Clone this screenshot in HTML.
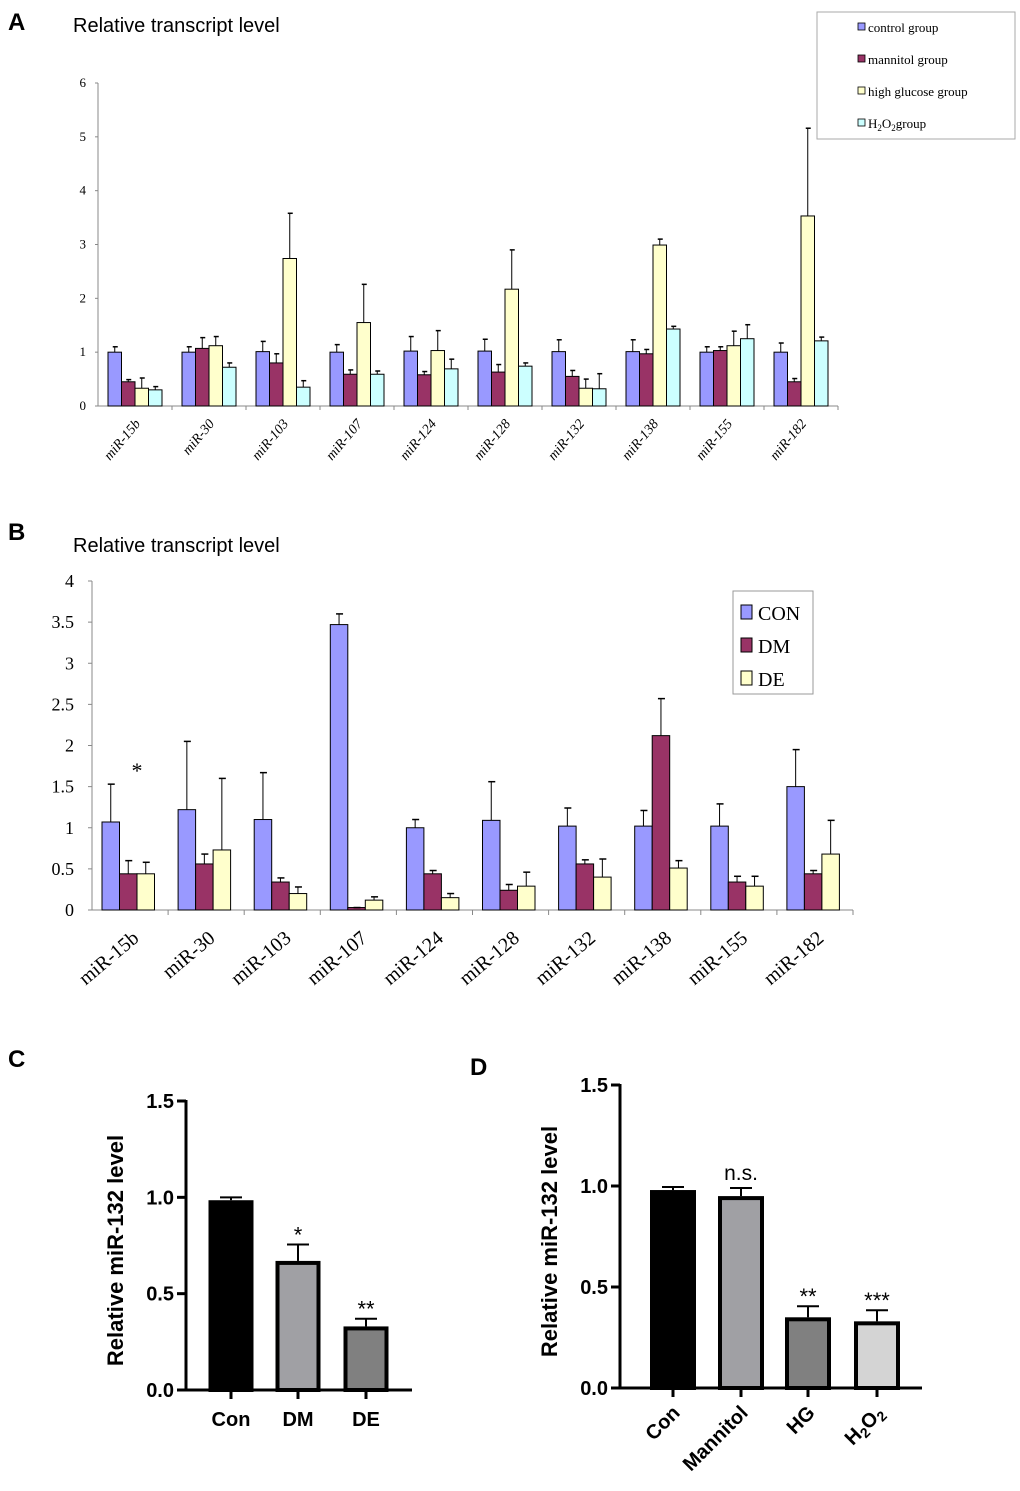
<!DOCTYPE html>
<html><head><meta charset="utf-8"><style>
body{margin:0;background:#fff}
svg{display:block}
.ser{font-family:"Liberation Serif",serif}
.san{font-family:"Liberation Sans",sans-serif}
</style></head><body>
<svg id="fig" width="1020" height="1491" viewBox="0 0 1020 1491" xmlns="http://www.w3.org/2000/svg">
<g id="gA"></g>
<g id="gB"></g>
<g id="gC"></g>
<g id="gD"></g>
</svg>
<script>
const mirs = ["miR-15b","miR-30","miR-103","miR-107","miR-124","miR-128","miR-132","miR-138","miR-155","miR-182"];
// Panel A
const aControl = [1.0,1.0,1.01,1.0,1.02,1.02,1.01,1.01,1.0,1.0];
const aControlErr = [1.1,1.1,1.2,1.14,1.29,1.24,1.23,1.23,1.1,1.17];
const aMannitol = [0.45,1.07,0.8,0.59,0.58,0.63,0.55,0.97,1.03,0.45];
const aMannitolErr = [0.49,1.27,0.97,0.67,0.64,0.77,0.66,1.05,1.1,0.51];
const aHG = [0.33,1.12,2.74,1.55,1.03,2.17,0.33,2.99,1.12,3.53];
const aHGErr = [0.52,1.29,3.58,2.26,1.4,2.9,0.5,3.1,1.39,5.16];
const aH2O2 = [0.3,0.72,0.35,0.59,0.69,0.74,0.32,1.43,1.25,1.21];
const aH2O2Err = [0.36,0.8,0.47,0.65,0.87,0.8,0.6,1.48,1.51,1.28];
const aTicks = [0,1,2,3,4,5,6];
// Panel B
const bCON = [1.07,1.22,1.1,3.47,1.0,1.09,1.02,1.02,1.02,1.5];
const bCONErr = [1.53,2.05,1.67,3.6,1.1,1.56,1.24,1.21,1.29,1.95];
const bDM = [0.44,0.56,0.34,0.03,0.44,0.24,0.56,2.12,0.34,0.44];
const bDMErr = [0.6,0.68,0.39,0.03,0.48,0.31,0.61,2.57,0.41,0.48];
const bDE = [0.44,0.73,0.2,0.12,0.15,0.29,0.4,0.51,0.29,0.68];
const bDEErr = [0.58,1.6,0.28,0.16,0.2,0.46,0.62,0.6,0.41,1.09];
const bTicks = ["0","0.5","1","1.5","2","2.5","3","3.5","4"];
// Panel C
const cCats = ["Con","DM","DE"];
const cVals = [0.985,0.67,0.33];
const cErr = [1.0,0.755,0.37];
const cStars = ["","*","**"];
// Panel D
const dCats = ["Con","Mannitol","HG","H2O2"];
const dVals = [0.98,0.95,0.35,0.33];
const dErr = [0.995,0.99,0.405,0.385];
const dStars = ["","n.s.","**","***"];
const cdTicks = ["0.0","0.5","1.0","1.5"];

const NS="http://www.w3.org/2000/svg";
function mk(parent,tag,attrs,text){const e=document.createElementNS(NS,tag);for(const k in attrs)e.setAttribute(k,attrs[k]);if(text!==undefined)e.textContent=text;parent.appendChild(e);return e;}

// ---------- Panel A ----------
(function(){
 const g=document.getElementById('gA');
 const x0=98,x1=838,y0=406,yTop=83,ymax=6;
 const y=v=>y0-(y0-yTop)*v/ymax;
 const gw=(x1-x0)/mirs.length;
 let t=mk(g,'text',{x:8,y:30,'font-size':24,'font-weight':'bold',class:'san'},'A');
 
 t=mk(g,'text',{x:73,y:32,'font-size':20,class:'san'},'Relative transcript level');
 
 let ax=mk(g,'line',{x1:x0,y1:y(0),x2:x0,y2:y(6),stroke:'#888','stroke-width':1});
 
 ax=mk(g,'line',{x1:x0,y1:y0,x2:x1,y2:y0,stroke:'#888','stroke-width':1});
 
 aTicks.forEach(v=>{
  mk(g,'line',{x1:x0-3,y1:y(v),x2:x0,y2:y(v),stroke:'#888'});
  const tl=mk(g,'text',{x:x0-12,y:y(v)+4,'font-size':13,'text-anchor':'end',class:'ser'},String(v));
  
 });
 const series=[[aControl,aControlErr,'#9999ff'],[aMannitol,aMannitolErr,'#993366'],[aHG,aHGErr,'#ffffcc'],[aH2O2,aH2O2Err,'#ccffff']];
 const bw=13.5;
 mirs.forEach((m,i)=>{
  const gx=x0+gw*i;
  mk(g,'line',{x1:gx+gw,y1:y0,x2:gx+gw,y2:y0+4,stroke:'#888'});
  series.forEach((s,j)=>{
   const bx=gx+10+bw*j, v=s[0][i], e=s[1][i];
   const r=mk(g,'rect',{x:bx,y:y(v),width:bw,height:y0-y(v),fill:s[2],stroke:'#000','stroke-width':1});
   
   mk(g,'line',{x1:bx+bw/2,y1:y(v),x2:bx+bw/2,y2:y(e),stroke:'#000'});
   mk(g,'line',{x1:bx+bw/2-2,y1:y(e),x2:bx+bw/2+3,y2:y(e),stroke:'#000','stroke-width':1.5});
  });
  const cx=gx+gw/2+6;
  const tl=mk(g,'text',{x:cx,y:y0+18,'font-size':14,'text-anchor':'end',class:'ser','font-style':'italic',transform:`rotate(-50 ${cx} ${y0+18})`},m);
  
 });
 const lg=mk(g,'g',{});
 
 mk(lg,'rect',{x:817,y:12,width:198,height:127,fill:'#fff',stroke:'#aaa'});
 const names=['control group','mannitol group','high glucose group',''];
 series.forEach((s,j)=>{
  const ly=31+32*j;
  mk(lg,'rect',{x:858,y:ly-8,width:7,height:7,fill:s[2],stroke:'#000','stroke-width':0.8});
  if(j<3){mk(lg,'text',{x:868,y:ly+1,'font-size':13,class:'ser'},names[j]);}
  else{const tt=mk(lg,'text',{x:868,y:ly+1,'font-size':13,class:'ser'});tt.innerHTML='H<tspan font-size="9" dy="3">2</tspan><tspan dy="-3">O</tspan><tspan font-size="9" dy="3">2</tspan><tspan dy="-3">group</tspan>';}
 });
})();

// ---------- Panel B ----------
(function(){
 const g=document.getElementById('gB');
 const x0=92,x1=853,y0=910,yTop=581,ymax=4;
 const y=v=>y0-(y0-yTop)*v/ymax;
 const gw=(x1-x0)/mirs.length;
 let t=mk(g,'text',{x:8,y:540,'font-size':24,'font-weight':'bold',class:'san'},'B');
 
 t=mk(g,'text',{x:73,y:552,'font-size':20,class:'san'},'Relative transcript level');
 
 let ax=mk(g,'line',{x1:x0,y1:y0,x2:x0,y2:yTop,stroke:'#888'});
 
 ax=mk(g,'line',{x1:x0,y1:y0,x2:x1,y2:y0,stroke:'#888'});
 
 bTicks.forEach(s=>{
  const v=parseFloat(s);
  mk(g,'line',{x1:x0-4,y1:y(v),x2:x0,y2:y(v),stroke:'#888'});
  const tl=mk(g,'text',{x:x0-18,y:y(v)+6,'font-size':18,'text-anchor':'end',class:'ser'},s);
  
 });
 const series=[[bCON,bCONErr,'#9999ff'],[bDM,bDMErr,'#993366'],[bDE,bDEErr,'#ffffcc']];
 const bw=17.5;
 mirs.forEach((m,i)=>{
  const gx=x0+gw*i;
  mk(g,'line',{x1:gx+gw,y1:y0,x2:gx+gw,y2:y0+5,stroke:'#888'});
  series.forEach((s,j)=>{
   const bx=gx+10+bw*j, v=s[0][i], e=s[1][i];
   const r=mk(g,'rect',{x:bx,y:y(v),width:bw,height:y0-y(v),fill:s[2],stroke:'#000','stroke-width':1});
   
   mk(g,'line',{x1:bx+bw/2,y1:y(v),x2:bx+bw/2,y2:y(e),stroke:'#000'});
   mk(g,'line',{x1:bx+bw/2-3,y1:y(e),x2:bx+bw/2+4,y2:y(e),stroke:'#000','stroke-width':1.5});
  });
  const cx=gx+gw/2+10;
  const tl=mk(g,'text',{x:cx,y:y0+30,'font-size':20,'text-anchor':'end',class:'ser',transform:`rotate(-40 ${cx} ${y0+30})`},m);
  
 });
 t=mk(g,'text',{x:137,y:778,'font-size':22,'text-anchor':'middle',class:'ser'},'*');
 
 const lg=mk(g,'g',{});
 
 mk(lg,'rect',{x:733,y:591,width:80,height:103,fill:'#fff',stroke:'#999'});
 ['CON','DM','DE'].forEach((n,j)=>{
  const ly=613+33*j;
  mk(lg,'rect',{x:741,y:ly-8,width:11,height:14,fill:series[j][2],stroke:'#000'});
  mk(lg,'text',{x:758,y:ly+7,'font-size':20,class:'ser'},n);
 });
})();

// ---------- Panels C & D ----------
function cd(gid,cats,vals,errs,stars,fills,conf,pfx){
 const g=document.getElementById(gid);
 const {x0,x1,y0,yTop,xs,bw,rot}=conf;
 const y=v=>y0-(y0-yTop)*v/1.5;
 let t=mk(g,'text',{x:conf.lx,y:conf.ly,'font-size':24,'font-weight':'bold',class:'san'},pfx.toUpperCase());
 
 const tx=x0-63, ty=(y0+yTop)/2+5;
 t=mk(g,'text',{x:tx,y:ty,'font-size':22,'font-weight':'bold','text-anchor':'middle',class:'san',transform:`rotate(-90 ${tx} ${ty})`},'Relative miR-132 level');
 
 let ax=mk(g,'line',{x1:x0,y1:y0+1.5,x2:x0,y2:yTop-1,stroke:'#000','stroke-width':3});
 
 ax=mk(g,'line',{x1:x0,y1:y0,x2:x1,y2:y0,stroke:'#000','stroke-width':3});
 
 cdTicks.forEach(s=>{
  const v=parseFloat(s);
  mk(g,'line',{x1:x0-9,y1:y(v),x2:x0,y2:y(v),stroke:'#000','stroke-width':3});
  const tl=mk(g,'text',{x:x0-12,y:y(v)+7,'font-size':20,'font-weight':'bold','text-anchor':'end',class:'san'},s);
  
 });
 cats.forEach((c,i)=>{
  const cx=xs[i], v=vals[i], e=errs[i];
  mk(g,'line',{x1:cx,y1:y(v),x2:cx,y2:y(e),stroke:'#000','stroke-width':2});
  mk(g,'line',{x1:cx-11,y1:y(e),x2:cx+11,y2:y(e),stroke:'#000','stroke-width':2});
  const r=mk(g,'rect',{x:cx-bw/2+2,y:y(v)+2,width:bw-4,height:y0-y(v)-2,fill:fills[i],stroke:'#000','stroke-width':4});
  
  mk(g,'line',{x1:cx,y1:y0,x2:cx,y2:y0+9,stroke:'#000','stroke-width':3});
  if(stars[i]){const s=mk(g,'text',{x:cx,y:y(e)-(stars[i]==='n.s.'?8:2),'font-size':stars[i]==='n.s.'?21:22,'text-anchor':'middle',class:'san'},stars[i]);
   }
  let tl;
  if(rot){
   const lx=cx+8, ly=y0+26;
   tl=mk(g,'text',{x:lx,y:ly,'font-size':20,'font-weight':'bold','text-anchor':'end',class:'san',transform:`rotate(-45 ${lx} ${ly})`});
   if(c==='H2O2') tl.innerHTML='H<tspan font-size="14" dy="4">2</tspan><tspan dy="-4">O</tspan><tspan font-size="14" dy="4">2</tspan>';
   else tl.textContent=c;
  } else {
   tl=mk(g,'text',{x:cx,y:y0+36,'font-size':20,'font-weight':'bold','text-anchor':'middle',class:'san'},c);
  }
  
 });
}
cd('gC',cCats,cVals,cErr,cStars,['#000','#a0a0a4','#808080'],
 {x0:186,x1:412,y0:1390,yTop:1101,xs:[231,298,366],bw:45,rot:false,lx:8,ly:1067},'c');
cd('gD',dCats,dVals,dErr,dStars,['#000','#a0a0a4','#808080','#d4d4d4'],
 {x0:620,x1:922,y0:1388,yTop:1085,xs:[673,741,808,877],bw:46,rot:true,lx:470,ly:1075},'d');
</script>
</body></html>
